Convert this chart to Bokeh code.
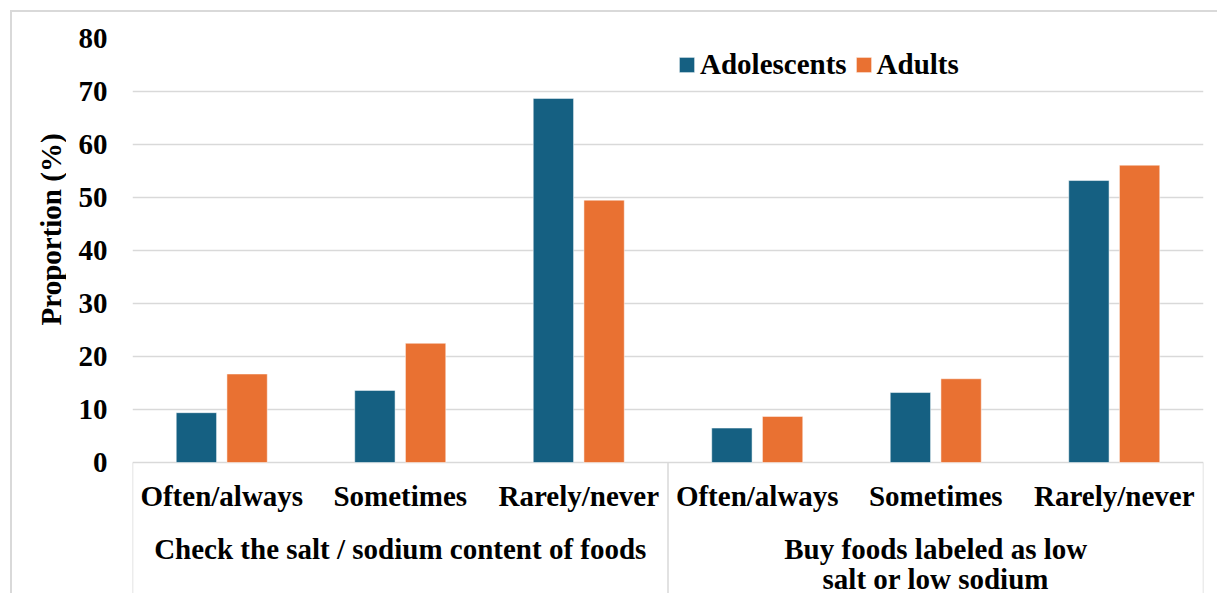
import numpy as np
from bokeh.plotting import figure
from bokeh.layouts import row
from bokeh.models import (Range1d, FixedTicker, Legend, LegendItem,
                          ColumnDataSource)
from bokeh.core.properties import value
from bokeh.embed import file_html
from bokeh.resources import INLINE

# ---- data -------------------------------------------------------------
groups = ["Check the salt / sodium content of foods",
          "Buy foods labeled as low\nsalt or low sodium"]
categories = ["Often/always", "Sometimes", "Rarely/never"]
adolescents = [9.4, 13.6, 68.7, 6.5, 13.2, 53.2]
adults = [16.7, 22.5, 49.5, 8.7, 15.8, 56.1]
y_ticks = [0, 10, 20, 30, 40, 50, 60, 70, 80]
series_names = ["Adolescents", "Adults"]
y_title = "Proportion (%)"

# ---- style ------------------------------------------------------------
FONT_NAME = "Liberation Serif"
FONT = value(FONT_NAME)
FS = "29px"
BLUE = "#156082"
ORANGE = "#E97132"
GRID = "#d9d9d9"

W, H = 1217, 593
TITLE_W = 66                             # strip holding the y-axis title
LEFT, RIGHT, TOP = 132, 14, 38
PX_PER_UNIT = 5.3                        # vertical pixels per percent
Y_MIN = 80 - (H - TOP) / PX_PER_UNIT     # frame reaches the bottom edge

n_groups = len(groups)
n_cat = len(categories)
slots = np.arange(n_groups * n_cat) + 0.5
bar_w = 0.226
offset = 0.142

# ---- y-axis title strip -----------------------------------------------
t = figure(width=TITLE_W, height=H, output_backend="svg", toolbar_location=None,
           title=None, x_range=Range1d(0, TITLE_W), y_range=Range1d(0, H),
           x_axis_location=None, y_axis_location=None,
           min_border=0, min_border_left=0, min_border_right=0,
           min_border_top=0, min_border_bottom=0)
t.outline_line_color = None
t.background_fill_alpha = 0
t.border_fill_alpha = 0
t.grid.visible = False
t.text(x=[50], y=[H - 204], text=[y_title], angle=np.pi / 2,
       text_font=FONT, text_font_style="bold", text_font_size=FS,
       text_align="center", text_baseline="middle", text_color="black")

# ---- main chart ---------------------------------------------------------
p = figure(width=W - TITLE_W, height=H, output_backend="svg",
           toolbar_location=None, title=None,
           x_range=Range1d(0, n_groups * n_cat), y_range=Range1d(Y_MIN, 80),
           x_axis_location=None, min_border_left=LEFT - TITLE_W,
           min_border_right=RIGHT, min_border_top=TOP, min_border_bottom=0)
p.outline_line_color = None
p.background_fill_color = "white"
p.border_fill_alpha = 0

ya = p.yaxis[0]
ya.ticker = FixedTicker(ticks=y_ticks)
ya.axis_line_color = None
ya.major_tick_line_color = None
ya.minor_tick_line_color = None
ya.major_label_standoff = 19
ya.major_label_text_font = FONT_NAME
ya.major_label_text_font_style = "bold"
ya.major_label_text_font_size = FS
ya.major_label_text_color = "black"

p.xgrid.visible = False
p.ygrid.ticker = FixedTicker(ticks=y_ticks)
p.ygrid.grid_line_color = GRID
p.ygrid.grid_line_width = 1.5

# bars
src = ColumnDataSource(dict(x_a=slots - offset, x_b=slots + offset,
                            adol=adolescents, adult=adults))
r_a = p.vbar(x="x_a", top="adol", bottom=0, width=bar_w, source=src,
             fill_color=BLUE, line_color="white", line_alpha=0.5, line_width=1)
r_b = p.vbar(x="x_b", top="adult", bottom=0, width=bar_w, source=src,
             fill_color=ORANGE, line_color="white", line_alpha=0.5, line_width=1)

# category box lines below the axis
bounds = np.arange(n_groups + 1) * n_cat
p.segment(x0=bounds, x1=bounds, y0=[0] * len(bounds), y1=[Y_MIN] * len(bounds),
          line_color=GRID, line_width=1.5)

# category labels
cat_labels = categories * n_groups
p.text(x=slots, y=[-33.0 / PX_PER_UNIT] * len(slots), text=cat_labels,
       text_font=FONT, text_font_style="bold", text_font_size=FS,
       text_align="center", text_baseline="alphabetic", text_color="black")

# group labels (multi-line labels are split into separate rows)
gx, gy, gt = [], [], []
for i, g in enumerate(groups):
    for j, line in enumerate(g.split("\n")):
        gx.append(i * n_cat + n_cat / 2)
        gy.append(-(86 + 30 * j) / PX_PER_UNIT)
        gt.append(line)
p.text(x=gx, y=gy, text=gt, text_font=FONT, text_font_style="bold",
       text_font_size=FS, text_align="center", text_baseline="alphabetic",
       text_color="black")

# legend
legend = Legend(items=[LegendItem(label=series_names[0], renderers=[r_a]),
                       LegendItem(label=series_names[1], renderers=[r_b])],
                orientation="horizontal", location=(545, 512),
                glyph_width=19, glyph_height=19, label_standoff=4, spacing=7,
                padding=0, margin=0, border_line_color=None,
                background_fill_alpha=0, label_text_font=FONT_NAME,
                label_text_font_style="bold", label_text_font_size=FS,
                label_text_color="black")
p.add_layout(legend)

# chart area border (top and left edges)
edge = "linear-gradient(#d9d9d9, #d9d9d9)"
layout = row(t, p, spacing=0, styles={
    "background": f"{edge} 10px 10px / {W}px 2px no-repeat, "
                  f"{edge} 10px 10px / 2px {H}px no-repeat, white"})

open("out.html", "w").write(file_html(layout, INLINE))
